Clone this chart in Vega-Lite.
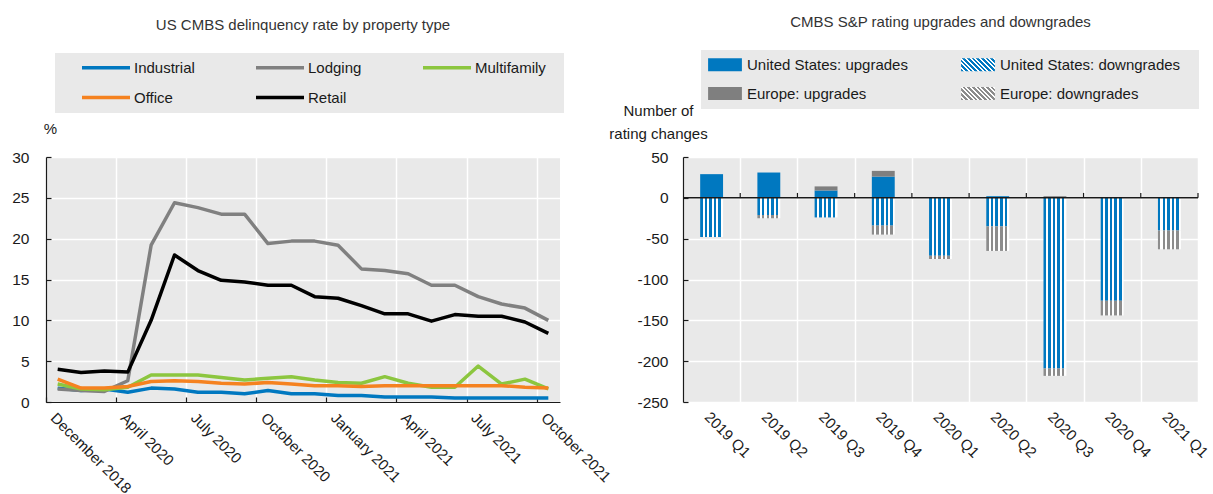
{
  "$schema": "https://vega.github.io/schema/vega-lite/v6.json",
  "padding": {"left": 11, "top": 15, "right": 0, "bottom": 0},
  "config": {
    "font": "Liberation Sans",
    "view": {"fill": "#e9e9e9", "stroke": null},
    "axis": {"labelFont": "Liberation Sans", "labelFontSize": 15, "labelColor": "#1a1a1a", "titleFont": "Liberation Sans", "titleFontSize": 15, "titleFontWeight": "normal", "titleColor": "#1a1a1a", "gridColor": "#ffffff", "gridWidth": 1.5, "gridOpacity": 1, "domainColor": "#1a1a1a", "tickColor": "#1a1a1a", "domainWidth": 1.2, "tickWidth": 1.2},
    "legend": {"labelFont": "Liberation Sans", "labelFontSize": 15, "labelColor": "#1a1a1a", "fillColor": "#e9e9e9", "padding": 7, "labelLimit": 400},
    "title": {"font": "Liberation Sans", "fontSize": 15, "fontWeight": "normal", "color": "#333333"}
  },
  "hconcat": [
    {
      "width": 514,
      "height": 245,
      "title": {"text": "US CMBS delinquency rate by property type", "anchor": "middle", "offset": 20},
      "data": {"values": [
        {"date":"December 2018","type":"Industrial","rate":1.7},{"date":"December 2019","type":"Industrial","rate":1.4},{"date":"March 2020","type":"Industrial","rate":1.6},{"date":"April 2020","type":"Industrial","rate":1.2},{"date":"May 2020","type":"Industrial","rate":1.7},{"date":"June 2020","type":"Industrial","rate":1.6},{"date":"July 2020","type":"Industrial","rate":1.2},{"date":"August 2020","type":"Industrial","rate":1.2},{"date":"September 2020","type":"Industrial","rate":1.0},{"date":"October 2020","type":"Industrial","rate":1.4},{"date":"November 2020","type":"Industrial","rate":1.0},{"date":"December 2020","type":"Industrial","rate":1.0},{"date":"January 2021","type":"Industrial","rate":0.8},{"date":"February 2021","type":"Industrial","rate":0.8},{"date":"March 2021","type":"Industrial","rate":0.6},{"date":"April 2021","type":"Industrial","rate":0.6},{"date":"May 2021","type":"Industrial","rate":0.6},{"date":"June 2021","type":"Industrial","rate":0.5},{"date":"July 2021","type":"Industrial","rate":0.5},{"date":"August 2021","type":"Industrial","rate":0.5},{"date":"September 2021","type":"Industrial","rate":0.5},{"date":"October 2021","type":"Industrial","rate":0.5},
        {"date":"December 2018","type":"Lodging","rate":1.6},{"date":"December 2019","type":"Lodging","rate":1.4},{"date":"March 2020","type":"Lodging","rate":1.3},{"date":"April 2020","type":"Lodging","rate":2.6},{"date":"May 2020","type":"Lodging","rate":19.2},{"date":"June 2020","type":"Lodging","rate":24.4},{"date":"July 2020","type":"Lodging","rate":23.8},{"date":"August 2020","type":"Lodging","rate":23.0},{"date":"September 2020","type":"Lodging","rate":23.0},{"date":"October 2020","type":"Lodging","rate":19.4},{"date":"November 2020","type":"Lodging","rate":19.7},{"date":"December 2020","type":"Lodging","rate":19.7},{"date":"January 2021","type":"Lodging","rate":19.2},{"date":"February 2021","type":"Lodging","rate":16.3},{"date":"March 2021","type":"Lodging","rate":16.1},{"date":"April 2021","type":"Lodging","rate":15.7},{"date":"May 2021","type":"Lodging","rate":14.3},{"date":"June 2021","type":"Lodging","rate":14.3},{"date":"July 2021","type":"Lodging","rate":12.9},{"date":"August 2021","type":"Lodging","rate":12.0},{"date":"September 2021","type":"Lodging","rate":11.5},{"date":"October 2021","type":"Lodging","rate":10.0},
        {"date":"December 2018","type":"Multifamily","rate":2.2},{"date":"December 2019","type":"Multifamily","rate":1.6},{"date":"March 2020","type":"Multifamily","rate":1.5},{"date":"April 2020","type":"Multifamily","rate":1.8},{"date":"May 2020","type":"Multifamily","rate":3.3},{"date":"June 2020","type":"Multifamily","rate":3.3},{"date":"July 2020","type":"Multifamily","rate":3.3},{"date":"August 2020","type":"Multifamily","rate":3.0},{"date":"September 2020","type":"Multifamily","rate":2.7},{"date":"October 2020","type":"Multifamily","rate":2.9},{"date":"November 2020","type":"Multifamily","rate":3.1},{"date":"December 2020","type":"Multifamily","rate":2.7},{"date":"January 2021","type":"Multifamily","rate":2.4},{"date":"February 2021","type":"Multifamily","rate":2.3},{"date":"March 2021","type":"Multifamily","rate":3.1},{"date":"April 2021","type":"Multifamily","rate":2.3},{"date":"May 2021","type":"Multifamily","rate":1.8},{"date":"June 2021","type":"Multifamily","rate":1.8},{"date":"July 2021","type":"Multifamily","rate":4.4},{"date":"August 2021","type":"Multifamily","rate":2.2},{"date":"September 2021","type":"Multifamily","rate":2.8},{"date":"October 2021","type":"Multifamily","rate":1.6},
        {"date":"December 2018","type":"Office","rate":2.8},{"date":"December 2019","type":"Office","rate":1.7},{"date":"March 2020","type":"Office","rate":1.7},{"date":"April 2020","type":"Office","rate":1.9},{"date":"May 2020","type":"Office","rate":2.5},{"date":"June 2020","type":"Office","rate":2.6},{"date":"July 2020","type":"Office","rate":2.5},{"date":"August 2020","type":"Office","rate":2.3},{"date":"September 2020","type":"Office","rate":2.2},{"date":"October 2020","type":"Office","rate":2.4},{"date":"November 2020","type":"Office","rate":2.2},{"date":"December 2020","type":"Office","rate":2.0},{"date":"January 2021","type":"Office","rate":2.0},{"date":"February 2021","type":"Office","rate":1.9},{"date":"March 2021","type":"Office","rate":2.0},{"date":"April 2021","type":"Office","rate":2.0},{"date":"May 2021","type":"Office","rate":2.0},{"date":"June 2021","type":"Office","rate":2.0},{"date":"July 2021","type":"Office","rate":2.0},{"date":"August 2021","type":"Office","rate":2.0},{"date":"September 2021","type":"Office","rate":1.8},{"date":"October 2021","type":"Office","rate":1.7},
        {"date":"December 2018","type":"Retail","rate":4.0},{"date":"December 2019","type":"Retail","rate":3.6},{"date":"March 2020","type":"Retail","rate":3.8},{"date":"April 2020","type":"Retail","rate":3.66},{"date":"May 2020","type":"Retail","rate":10.0},{"date":"June 2020","type":"Retail","rate":18.0},{"date":"July 2020","type":"Retail","rate":16.1},{"date":"August 2020","type":"Retail","rate":14.9},{"date":"September 2020","type":"Retail","rate":14.7},{"date":"October 2020","type":"Retail","rate":14.3},{"date":"November 2020","type":"Retail","rate":14.3},{"date":"December 2020","type":"Retail","rate":12.9},{"date":"January 2021","type":"Retail","rate":12.7},{"date":"February 2021","type":"Retail","rate":11.8},{"date":"March 2021","type":"Retail","rate":10.8},{"date":"April 2021","type":"Retail","rate":10.8},{"date":"May 2021","type":"Retail","rate":9.9},{"date":"June 2021","type":"Retail","rate":10.7},{"date":"July 2021","type":"Retail","rate":10.5},{"date":"August 2021","type":"Retail","rate":10.5},{"date":"September 2021","type":"Retail","rate":9.8},{"date":"October 2021","type":"Retail","rate":8.4}
      ]},
      "mark": {"type": "line", "strokeWidth": 3.5, "strokeJoin": "round"},
      "encoding": {
        "x": {"field": "date", "type": "ordinal", "sort": null, "scale": {"type": "point", "padding": 0.5},
          "axis": {"title": null, "values": ["December 2018","April 2020","July 2020","October 2020","January 2021","April 2021","July 2021","October 2021"], "tickOffset": -11.68, "labelOffset": 11.68, "labelAngle": 45, "labelAlign": "left", "labelBaseline": "top", "tickSize": -5, "labelPadding": 13, "grid": true, "labelFontSize": 15}},
        "y": {"field": "rate", "type": "quantitative", "scale": {"domain": [0, 30], "nice": false},
          "axis": {"values": [0,5,10,15,20,25,30], "title": "%", "titleAngle": 0, "titleX": 4, "titleY": -29, "titleAlign": "center", "titleBaseline": "middle", "tickSize": -5, "labelPadding": 22, "grid": true, "labelFontSize": 15.5}},
        "color": {"field": "type", "type": "nominal",
          "scale": {"domain": ["Industrial","Lodging","Multifamily","Office","Retail"], "range": ["#0078c0","#808080","#8cc63f","#f58220","#000000"]},
          "legend": {"title": null, "orient": "none", "legendX": 9, "legendY": -104, "direction": "horizontal", "columns": 3, "symbolType": "M-4.8,0L4.8,0", "symbolSize": 100, "symbolStrokeWidth": 3.5, "symbolOffset": 36.5, "labelOffset": 20.5, "columnPadding": 41, "rowPadding": 14, "labelExpr": "datum.label === 'Multifamily' ? datum.label + '\u2800' : datum.label", "padding": 7, "fillColor": "#e9e9e9"}}
      }
    },
    {
      "width": 515,
      "height": 245,
      "title": {"text": "CMBS S&P rating upgrades and downgrades", "anchor": "middle", "offset": 20},
      "data": {"values": [
        {"q":"2019 Q1","series":"United States: upgrades","value":29},{"q":"2019 Q2","series":"United States: upgrades","value":31},{"q":"2019 Q3","series":"United States: upgrades","value":9},{"q":"2019 Q4","series":"United States: upgrades","value":26},{"q":"2020 Q1","series":"United States: upgrades","value":0},{"q":"2020 Q2","series":"United States: upgrades","value":2},{"q":"2020 Q3","series":"United States: upgrades","value":0},{"q":"2020 Q4","series":"United States: upgrades","value":0},{"q":"2021 Q1","series":"United States: upgrades","value":0},
        {"q":"2019 Q1","series":"United States: downgrades","value":-48},{"q":"2019 Q2","series":"United States: downgrades","value":-21},{"q":"2019 Q3","series":"United States: downgrades","value":-24},{"q":"2019 Q4","series":"United States: downgrades","value":-34},{"q":"2020 Q1","series":"United States: downgrades","value":-71},{"q":"2020 Q2","series":"United States: downgrades","value":-35},{"q":"2020 Q3","series":"United States: downgrades","value":-209},{"q":"2020 Q4","series":"United States: downgrades","value":-126},{"q":"2021 Q1","series":"United States: downgrades","value":-40},
        {"q":"2019 Q1","series":"Europe: upgrades","value":0},{"q":"2019 Q2","series":"Europe: upgrades","value":0},{"q":"2019 Q3","series":"Europe: upgrades","value":5},{"q":"2019 Q4","series":"Europe: upgrades","value":7},{"q":"2020 Q1","series":"Europe: upgrades","value":0},{"q":"2020 Q2","series":"Europe: upgrades","value":0},{"q":"2020 Q3","series":"Europe: upgrades","value":2},{"q":"2020 Q4","series":"Europe: upgrades","value":0},{"q":"2021 Q1","series":"Europe: upgrades","value":0},
        {"q":"2019 Q1","series":"Europe: downgrades","value":0},{"q":"2019 Q2","series":"Europe: downgrades","value":-4},{"q":"2019 Q3","series":"Europe: downgrades","value":0},{"q":"2019 Q4","series":"Europe: downgrades","value":-11},{"q":"2020 Q1","series":"Europe: downgrades","value":-4},{"q":"2020 Q2","series":"Europe: downgrades","value":-30},{"q":"2020 Q3","series":"Europe: downgrades","value":-9},{"q":"2020 Q4","series":"Europe: downgrades","value":-18},{"q":"2021 Q1","series":"Europe: downgrades","value":-23}
      ]},
      "layer": [
        {
          "mark": {"type": "bar", "width": {"band": 0.4}},
          "encoding": {
            "x": {"field": "q", "type": "nominal", "sort": null, "scale": {"paddingInner": 0, "paddingOuter": 0},
              "axis": {"title": null, "labelAngle": 45, "labelAlign": "left", "labelBaseline": "top", "labelPadding": 7, "domain": false, "ticks": false, "grid": true, "tickBand": "extent", "labelFontSize": 15}},
            "y": {"field": "value", "type": "quantitative", "stack": "zero", "scale": {"domain": [-250, 50], "nice": false},
              "axis": {"values": [-250,-200,-150,-100,-50,0,50], "labelExpr": "'' + datum.value", "title": ["Number of", "rating changes"], "titleAngle": 0, "titleX": -25, "titleY": -47, "titleAlign": "center", "titleBaseline": "middle", "titleLineHeight": 23, "tickSize": -5, "labelPadding": 20, "grid": true, "labelFontSize": 15.5}},
            "order": {"field": "series", "sort": "descending"},
            "color": {"field": "series", "type": "nominal",
              "scale": {"domain": ["United States: upgrades","United States: downgrades","Europe: upgrades","Europe: downgrades"],
                "range": [
                  "#0078c0",
                  {"expr": "{gradient:'linear',x1:0,y1:1,x2:1.206,y2:0.539,stops:[{offset:0,color:'#0078c0'},{offset:0.055,color:'#0078c0'},{offset:0.055,color:'#ffffff'},{offset:0.1,color:'#ffffff'},{offset:0.1,color:'#0078c0'},{offset:0.155,color:'#0078c0'},{offset:0.155,color:'#ffffff'},{offset:0.2,color:'#ffffff'},{offset:0.2,color:'#0078c0'},{offset:0.255,color:'#0078c0'},{offset:0.255,color:'#ffffff'},{offset:0.3,color:'#ffffff'},{offset:0.3,color:'#0078c0'},{offset:0.355,color:'#0078c0'},{offset:0.355,color:'#ffffff'},{offset:0.4,color:'#ffffff'},{offset:0.4,color:'#0078c0'},{offset:0.455,color:'#0078c0'},{offset:0.455,color:'#ffffff'},{offset:0.5,color:'#ffffff'},{offset:0.5,color:'#0078c0'},{offset:0.555,color:'#0078c0'},{offset:0.555,color:'#ffffff'},{offset:0.6,color:'#ffffff'},{offset:0.6,color:'#0078c0'},{offset:0.655,color:'#0078c0'},{offset:0.655,color:'#ffffff'},{offset:0.7,color:'#ffffff'},{offset:0.7,color:'#0078c0'},{offset:0.755,color:'#0078c0'},{offset:0.755,color:'#ffffff'},{offset:0.8,color:'#ffffff'},{offset:0.8,color:'#0078c0'},{offset:0.855,color:'#0078c0'},{offset:0.855,color:'#ffffff'},{offset:0.9,color:'#ffffff'},{offset:0.9,color:'#0078c0'},{offset:0.955,color:'#0078c0'},{offset:0.955,color:'#ffffff'},{offset:1,color:'#ffffff'}]}"},
                  "#7f7f7f",
                  {"expr": "{gradient:'linear',x1:0,y1:1,x2:1.206,y2:0.539,stops:[{offset:0,color:'#8c8c8c'},{offset:0.055,color:'#8c8c8c'},{offset:0.055,color:'#ffffff'},{offset:0.1,color:'#ffffff'},{offset:0.1,color:'#8c8c8c'},{offset:0.155,color:'#8c8c8c'},{offset:0.155,color:'#ffffff'},{offset:0.2,color:'#ffffff'},{offset:0.2,color:'#8c8c8c'},{offset:0.255,color:'#8c8c8c'},{offset:0.255,color:'#ffffff'},{offset:0.3,color:'#ffffff'},{offset:0.3,color:'#8c8c8c'},{offset:0.355,color:'#8c8c8c'},{offset:0.355,color:'#ffffff'},{offset:0.4,color:'#ffffff'},{offset:0.4,color:'#8c8c8c'},{offset:0.455,color:'#8c8c8c'},{offset:0.455,color:'#ffffff'},{offset:0.5,color:'#ffffff'},{offset:0.5,color:'#8c8c8c'},{offset:0.555,color:'#8c8c8c'},{offset:0.555,color:'#ffffff'},{offset:0.6,color:'#ffffff'},{offset:0.6,color:'#8c8c8c'},{offset:0.655,color:'#8c8c8c'},{offset:0.655,color:'#ffffff'},{offset:0.7,color:'#ffffff'},{offset:0.7,color:'#8c8c8c'},{offset:0.755,color:'#8c8c8c'},{offset:0.755,color:'#ffffff'},{offset:0.8,color:'#ffffff'},{offset:0.8,color:'#8c8c8c'},{offset:0.855,color:'#8c8c8c'},{offset:0.855,color:'#ffffff'},{offset:0.9,color:'#ffffff'},{offset:0.9,color:'#8c8c8c'},{offset:0.955,color:'#8c8c8c'},{offset:0.955,color:'#ffffff'},{offset:1,color:'#ffffff'}]}"}
                ]},
              "condition": [
                {"test": "datum.series === 'United States: downgrades'", "value": {"gradient":"linear","x1":0,"y1":0,"x2":1,"y2":0,"stops":[{"offset":0,"color":"#0078c0"},{"offset":0.11,"color":"#0078c0"},{"offset":0.11,"color":"#ffffff"},{"offset":0.2,"color":"#ffffff"},{"offset":0.2,"color":"#0078c0"},{"offset":0.31,"color":"#0078c0"},{"offset":0.31,"color":"#ffffff"},{"offset":0.4,"color":"#ffffff"},{"offset":0.4,"color":"#0078c0"},{"offset":0.51,"color":"#0078c0"},{"offset":0.51,"color":"#ffffff"},{"offset":0.6,"color":"#ffffff"},{"offset":0.6,"color":"#0078c0"},{"offset":0.71,"color":"#0078c0"},{"offset":0.71,"color":"#ffffff"},{"offset":0.8,"color":"#ffffff"},{"offset":0.8,"color":"#0078c0"},{"offset":0.91,"color":"#0078c0"},{"offset":0.91,"color":"#ffffff"},{"offset":1,"color":"#ffffff"}]}},
                {"test": "datum.series === 'Europe: downgrades'", "value": {"gradient":"linear","x1":0,"y1":0,"x2":1,"y2":0,"stops":[{"offset":0,"color":"#8c8c8c"},{"offset":0.11,"color":"#8c8c8c"},{"offset":0.11,"color":"#ffffff"},{"offset":0.2,"color":"#ffffff"},{"offset":0.2,"color":"#8c8c8c"},{"offset":0.31,"color":"#8c8c8c"},{"offset":0.31,"color":"#ffffff"},{"offset":0.4,"color":"#ffffff"},{"offset":0.4,"color":"#8c8c8c"},{"offset":0.51,"color":"#8c8c8c"},{"offset":0.51,"color":"#ffffff"},{"offset":0.6,"color":"#ffffff"},{"offset":0.6,"color":"#8c8c8c"},{"offset":0.71,"color":"#8c8c8c"},{"offset":0.71,"color":"#ffffff"},{"offset":0.8,"color":"#ffffff"},{"offset":0.8,"color":"#8c8c8c"},{"offset":0.91,"color":"#8c8c8c"},{"offset":0.91,"color":"#ffffff"},{"offset":1,"color":"#ffffff"}]}}
              ],
              "legend": {"title": null, "orient": "none", "legendX": 18, "legendY": -107, "direction": "horizontal", "columns": 2, "symbolType": "M-2.6,-1L2.6,-1L2.6,1L-2.6,1Z", "symbolSize": 169, "symbolStrokeWidth": 0, "symbolOffset": 9.5, "labelOffset": 14.5, "columnPadding": 53, "rowPadding": 13, "labelExpr": "datum.label === 'United States: downgrades' ? datum.label + '\u2800' : datum.label", "padding": 7, "fillColor": "#e9e9e9"}
            }
          }
        },
        {
          "data": {"values": [{}]},
          "mark": {"type": "rule", "color": "#1a1a1a", "strokeWidth": 1.5},
          "encoding": {"y": {"datum": 0}}
        },
        {
          "transform": [{"filter": "datum.series === 'United States: upgrades'"}],
          "mark": {"type": "rule", "color": "#1a1a1a", "strokeWidth": 1.2},
          "encoding": {"x": {"field": "q", "type": "nominal", "sort": null, "bandPosition": 1}, "y": {"datum": 0}, "y2": {"datum": 6}}
        }
      ]
    }
  ],
  "spacing": 123,
  "bounds": "flush",
  "resolve": {"scale": {"color": "independent"}, "legend": {"color": "independent"}}
}
